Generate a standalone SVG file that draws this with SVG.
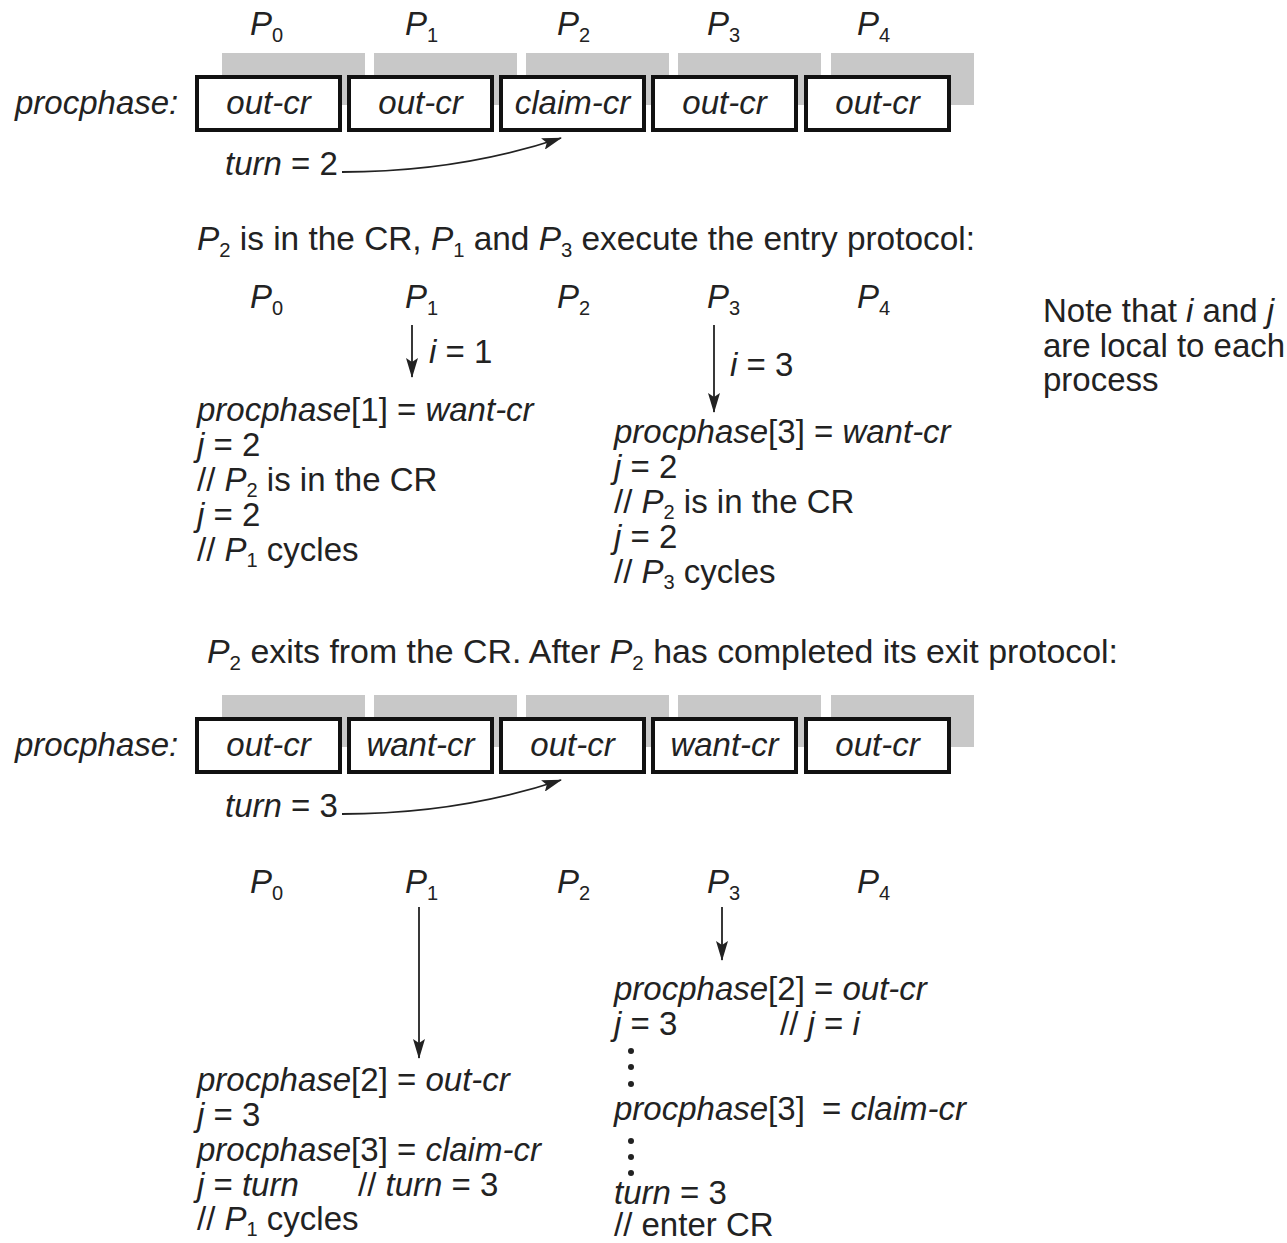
<svg xmlns="http://www.w3.org/2000/svg" width="1287" height="1243" viewBox="0 0 1287 1243">
<style>
.t{font-family:"Liberation Sans",Arial,sans-serif;font-size:33px;fill:#222}
.i{font-style:italic}
.n{font-style:normal}
.s{font-size:20px;font-style:normal}
.sh{fill:#c8c8c8}
.box{fill:#fff;stroke:#111;stroke-width:4}
.ln{fill:none;stroke:#222;stroke-width:1.8}
.dot{fill:#222}
</style>
<defs>
<marker id="ah" viewBox="0 0 20 12" refX="19" refY="6" markerWidth="20" markerHeight="12" markerUnits="userSpaceOnUse" orient="auto">
<path d="M0,0 L20,6 L0,12 L4,6 z" fill="#222"/>
</marker>
</defs>
<rect width="1287" height="1243" fill="#fff"/>

<!-- Row 1 -->
<g id="row1-labels">
<text class="t i" x="250" y="35">P<tspan class="s" dy="7">0</tspan></text>
<text class="t i" x="405" y="35">P<tspan class="s" dy="7">1</tspan></text>
<text class="t i" x="557" y="35">P<tspan class="s" dy="7">2</tspan></text>
<text class="t i" x="707" y="35">P<tspan class="s" dy="7">3</tspan></text>
<text class="t i" x="857" y="35">P<tspan class="s" dy="7">4</tspan></text>
<text class="t i" x="15" y="114">procphase:</text>
</g>
<g id="row1-shadows">
<rect class="sh" x="222" y="53" width="143" height="52"/>
<rect class="sh" x="374" y="53" width="143" height="52"/>
<rect class="sh" x="526" y="53" width="143" height="52"/>
<rect class="sh" x="678" y="53" width="143" height="52"/>
<rect class="sh" x="831" y="53" width="143" height="52"/>
</g>
<g id="row1-cell0"><rect class="box" x="197" y="77" width="143" height="53"/><text class="t i" x="268.5" y="114" text-anchor="middle">out-cr</text></g>
<g id="row1-cell1"><rect class="box" x="349" y="77" width="143" height="53"/><text class="t i" x="420.5" y="114" text-anchor="middle">out-cr</text></g>
<g id="row1-cell2"><rect class="box" x="501" y="77" width="143" height="53"/><text class="t i" x="572.5" y="114" text-anchor="middle">claim-cr</text></g>
<g id="row1-cell3"><rect class="box" x="653" y="77" width="143" height="53"/><text class="t i" x="724.5" y="114" text-anchor="middle">out-cr</text></g>
<g id="row1-cell4"><rect class="box" x="806" y="77" width="143" height="53"/><text class="t i" x="877.5" y="114" text-anchor="middle">out-cr</text></g>
<g id="row1-turn"><text class="t" x="225" y="175"><tspan class="i">turn</tspan> = 2</text></g>

<g id="caption1"><text class="t" x="197" y="250" textLength="778" lengthAdjust="spacingAndGlyphs"><tspan class="i">P</tspan><tspan class="s" dy="7">2</tspan><tspan dy="-7"> is in the CR, </tspan><tspan class="i">P</tspan><tspan class="s" dy="7">1</tspan><tspan dy="-7"> and </tspan><tspan class="i">P</tspan><tspan class="s" dy="7">3</tspan><tspan dy="-7"> execute the entry protocol:</tspan></text></g>

<!-- Stage 2 -->
<g id="row2-labels">
<text class="t i" x="250" y="308">P<tspan class="s" dy="7">0</tspan></text>
<text class="t i" x="405" y="308">P<tspan class="s" dy="7">1</tspan></text>
<text class="t i" x="557" y="308">P<tspan class="s" dy="7">2</tspan></text>
<text class="t i" x="707" y="308">P<tspan class="s" dy="7">3</tspan></text>
<text class="t i" x="857" y="308">P<tspan class="s" dy="7">4</tspan></text>
<text class="t" x="429" y="363"><tspan class="i">i</tspan> = 1</text>
<text class="t" x="730" y="376"><tspan class="i">i</tspan> = 3</text>
</g>
<g id="note">
<text class="t" x="1043" y="322">Note that <tspan class="i">i</tspan> and <tspan class="i">j</tspan></text>
<text class="t" x="1043" y="357">are local to each</text>
<text class="t" x="1043" y="391">process</text>
</g>
<g id="p1-block1">
<text class="t" x="197" y="421"><tspan class="i">procphase</tspan>[1] = <tspan class="i">want-cr</tspan></text>
<text class="t" x="197" y="456"><tspan class="i">j</tspan> = 2</text>
<text class="t" x="197" y="491">// <tspan class="i">P</tspan><tspan class="s" dy="6">2</tspan><tspan dy="-6"> is in the CR</tspan></text>
<text class="t" x="197" y="526"><tspan class="i">j</tspan> = 2</text>
<text class="t" x="197" y="561">// <tspan class="i">P</tspan><tspan class="s" dy="6">1</tspan><tspan dy="-6"> cycles</tspan></text>
</g>
<g id="p3-block1">
<text class="t" x="614" y="443"><tspan class="i">procphase</tspan>[3] = <tspan class="i">want-cr</tspan></text>
<text class="t" x="614" y="478"><tspan class="i">j</tspan> = 2</text>
<text class="t" x="614" y="513">// <tspan class="i">P</tspan><tspan class="s" dy="6">2</tspan><tspan dy="-6"> is in the CR</tspan></text>
<text class="t" x="614" y="548"><tspan class="i">j</tspan> = 2</text>
<text class="t" x="614" y="583">// <tspan class="i">P</tspan><tspan class="s" dy="6">3</tspan><tspan dy="-6"> cycles</tspan></text>
</g>

<g id="caption2"><text class="t" x="207" y="663" textLength="911" lengthAdjust="spacingAndGlyphs"><tspan class="i">P</tspan><tspan class="s" dy="7">2</tspan><tspan dy="-7"> exits from the CR. After </tspan><tspan class="i">P</tspan><tspan class="s" dy="7">2</tspan><tspan dy="-7"> has completed its exit protocol:</tspan></text></g>

<!-- Row 3 (array after exit) -->
<g id="row3-labels"><text class="t i" x="15" y="756">procphase:</text></g>
<g id="row3-shadows">
<rect class="sh" x="222" y="695" width="143" height="52"/>
<rect class="sh" x="374" y="695" width="143" height="52"/>
<rect class="sh" x="526" y="695" width="143" height="52"/>
<rect class="sh" x="678" y="695" width="143" height="52"/>
<rect class="sh" x="831" y="695" width="143" height="52"/>
</g>
<g id="row3-cell0"><rect class="box" x="197" y="719" width="143" height="53"/><text class="t i" x="268.5" y="756" text-anchor="middle">out-cr</text></g>
<g id="row3-cell1"><rect class="box" x="349" y="719" width="143" height="53"/><text class="t i" x="420.5" y="756" text-anchor="middle">want-cr</text></g>
<g id="row3-cell2"><rect class="box" x="501" y="719" width="143" height="53"/><text class="t i" x="572.5" y="756" text-anchor="middle">out-cr</text></g>
<g id="row3-cell3"><rect class="box" x="653" y="719" width="143" height="53"/><text class="t i" x="724.5" y="756" text-anchor="middle">want-cr</text></g>
<g id="row3-cell4"><rect class="box" x="806" y="719" width="143" height="53"/><text class="t i" x="877.5" y="756" text-anchor="middle">out-cr</text></g>
<g id="row3-turn"><text class="t" x="225" y="817"><tspan class="i">turn</tspan> = 3</text></g>

<!-- Stage 4 -->
<g id="row4-labels">
<text class="t i" x="250" y="893">P<tspan class="s" dy="7">0</tspan></text>
<text class="t i" x="405" y="893">P<tspan class="s" dy="7">1</tspan></text>
<text class="t i" x="557" y="893">P<tspan class="s" dy="7">2</tspan></text>
<text class="t i" x="707" y="893">P<tspan class="s" dy="7">3</tspan></text>
<text class="t i" x="857" y="893">P<tspan class="s" dy="7">4</tspan></text>
</g>
<g id="p1-block2">
<text class="t" x="197" y="1091"><tspan class="i">procphase</tspan>[2] = <tspan class="i">out-cr</tspan></text>
<text class="t" x="197" y="1126"><tspan class="i">j</tspan> = 3</text>
<text class="t" x="197" y="1161"><tspan class="i">procphase</tspan>[3] = <tspan class="i">claim-cr</tspan></text>
<text class="t" x="197" y="1196"><tspan class="i">j</tspan> = <tspan class="i">turn</tspan><tspan x="358">// </tspan><tspan class="i">turn</tspan> = 3</text>
<text class="t" x="197" y="1230">// <tspan class="i">P</tspan><tspan class="s" dy="6">1</tspan><tspan dy="-6"> cycles</tspan></text>
</g>
<g id="p3-block2">
<text class="t" x="614" y="1000"><tspan class="i">procphase</tspan>[2] = <tspan class="i">out-cr</tspan></text>
<text class="t" x="614" y="1035"><tspan class="i">j</tspan> = 3<tspan x="780">// </tspan><tspan class="i">j</tspan> = <tspan class="i">i</tspan></text>
<circle class="dot" cx="631" cy="1051" r="3"/>
<circle class="dot" cx="631" cy="1067" r="3"/>
<circle class="dot" cx="631" cy="1084" r="3"/>
<text class="t" x="614" y="1120"><tspan class="i">procphase</tspan>[3]<tspan x="822">= </tspan><tspan class="i">claim-cr</tspan></text>
<circle class="dot" cx="631" cy="1141" r="3"/>
<circle class="dot" cx="631" cy="1157" r="3"/>
<circle class="dot" cx="631" cy="1173" r="3"/>
<text class="t" x="614" y="1204"><tspan class="i">turn</tspan> = 3</text>
<text class="t" x="614" y="1236">// enter CR</text>
</g>

<g id="connectors">
<path class="ln" d="M342,172 C420,172 495,160 561,138" marker-end="url(#ah)"/>
<path class="ln" d="M342,814 C420,814 495,802 561,780" marker-end="url(#ah)"/>
<path class="ln" d="M412,325 L412,377" marker-end="url(#ah)"/>
<path class="ln" d="M714,325 L714,412" marker-end="url(#ah)"/>
<path class="ln" d="M419,907 L419,1058" marker-end="url(#ah)"/>
<path class="ln" d="M722,907 L722,960" marker-end="url(#ah)"/>
</g>
</svg>
